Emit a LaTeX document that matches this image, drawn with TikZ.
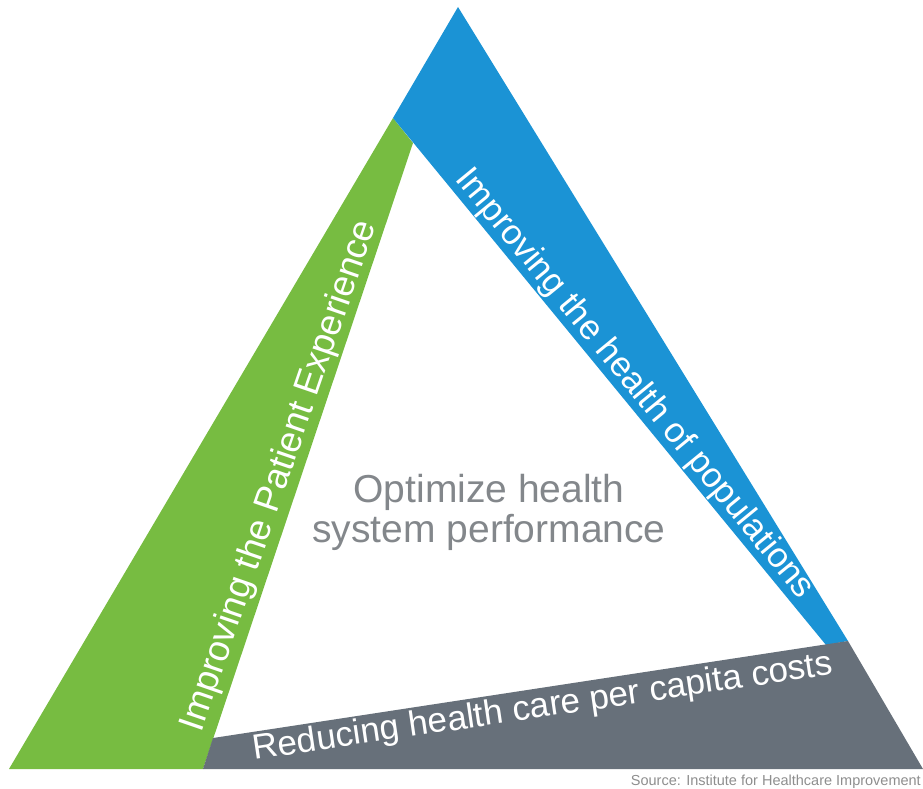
\documentclass[tikz,border=0pt]{standalone}
\usepackage{fontspec}
\setmainfont{Liberation Sans}
\definecolor{aimgreen}{HTML}{77BC41}
\definecolor{aimblue}{HTML}{1B93D5}
\definecolor{aimgray}{HTML}{67707A}
\definecolor{centertext}{HTML}{83878B}
\definecolor{sourcetext}{HTML}{8E8E8E}
\tikzset{
  bandlabel/.style={text=white, inner sep=0pt, font=\fontsize{35}{40}\selectfont},
  corelabel/.style={text=centertext, inner sep=0pt, anchor=base, font=\fontsize{39}{42}\selectfont},
  sourcelabel/.style={text=sourcetext, inner sep=0pt, anchor=base east, font=\fontsize{14.5}{16}\selectfont}
}
\begin{document}
\begin{tikzpicture}[x=1pt,y=-1pt]
\useasboundingbox (0,0) rectangle (923,789);
% corner points of the three bands
\coordinate (apex) at (458,7);
\coordinate (gtop) at (393,118);
\coordinate (gin) at (413,143);
\coordinate (gbot) at (203,769);
\coordinate (left) at (9,769);
\coordinate (right) at (923,769);
\coordinate (ctop) at (213,738);
\coordinate (cright) at (848,641);
\coordinate (bin) at (826,645);
% experience band (green)
\fill[aimgreen] (gtop) -- (gin) -- (gbot) -- (left) -- cycle;
% population health band (blue)
\fill[aimblue] (apex) -- (gtop) -- (bin) -- (cright) -- cycle;
% cost band (gray)
\fill[aimgray] (ctop) -- (cright) -- (right) -- (gbot) -- cycle;
% band labels
\node[bandlabel, rotate=71, font=\fontsize{36.5}{40}\selectfont] (experience) at (280,476) {Improving the Patient Experience};
\node[bandlabel, rotate=-50.6] (population) at (634,384) {Improving the health of populations};
\node[bandlabel, rotate=8.4] (cost) at (543,708) {Reducing health care per capita costs};
% central goal
\node[corelabel] (goal1) at (489,502) {Optimize health};
\node[corelabel] (goal2) at (489,542) {system performance};
% source line
\node[sourcelabel] (source) at (921,785) {Source: Institute for Healthcare Improvement};
\end{tikzpicture}
\end{document}
